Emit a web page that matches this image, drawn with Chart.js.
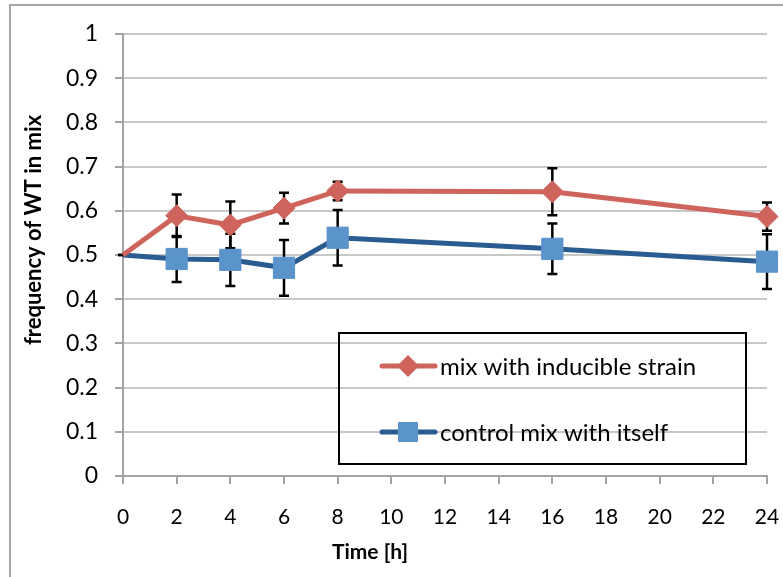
<!DOCTYPE html>
<html>
<head>
<meta charset="utf-8">
<script src="https://cdn.jsdelivr.net/npm/chart.js@4.4.0/dist/chart.umd.min.js"></script>
<style>
  html, body { margin: 0; padding: 0; background: #fff; }
  #wrap { width: 783px; height: 577px; }
</style>
</head>
<body>
<div id="wrap"><canvas id="grafico" width="783" height="577"></canvas></div>
<script>
// valores
const tempos = [0, 2, 4, 6, 8, 16, 24];
const mixInducible = [0.5, 0.589, 0.568, 0.606, 0.645, 0.643, 0.587];
const mixInducibleErr = [0, 0.048, 0.053, 0.035, 0.021, 0.053, 0.032];
const controlMix = [0.5, 0.491, 0.489, 0.471, 0.539, 0.514, 0.485];
const controlMixErr = [0, 0.052, 0.059, 0.063, 0.063, 0.057, 0.062];
const nomesSeries = ['mix with inducible strain', 'control mix with itself'];
const tituloX = 'Time [h]';
const tituloY = 'frequency of WT in mix';

const FONTE = 'Lato, "Open Sans", sans-serif';
const VERMELHO = '#CF645C';
const AZUL_LINHA = '#2A5B91';
const AZUL_MARCA = '#5B93CB';
const CINZA_EIXO = '#A3A3A3';

function pontos(ys) {
    return tempos.map(function (t, i) { return { x: t, y: ys[i] }; });
}

// moldura externa
const moldura = {
    id: 'moldura',
    beforeDraw: function (chart) {
        const ctx = chart.ctx;
        ctx.save();
        ctx.fillStyle = '#fff';
        ctx.fillRect(0, 0, chart.width, chart.height);
        ctx.strokeStyle = '#A6A6A6';
        ctx.lineWidth = 2;
        ctx.strokeRect(10, 5, chart.width + 20, chart.height + 20);
        ctx.restore();
    }
};

// barras de erro
const barrasErro = {
    id: 'barrasErro',
    beforeDatasetsDraw: function (chart) {
        const ctx = chart.ctx;
        const xs = chart.scales.x, ys = chart.scales.y;
        const series = [[mixInducible, mixInducibleErr], [controlMix, controlMixErr]];
        ctx.save();
        ctx.strokeStyle = '#000';
        ctx.lineWidth = 2.5;
        series.forEach(function (s) {
            tempos.forEach(function (t, i) {
                const px = xs.getPixelForValue(t);
                const top = ys.getPixelForValue(s[0][i] + s[1][i]);
                const bot = ys.getPixelForValue(s[0][i] - s[1][i]);
                ctx.beginPath();
                ctx.moveTo(px, top); ctx.lineTo(px, bot);
                ctx.moveTo(px - 5, top); ctx.lineTo(px + 5, top);
                ctx.moveTo(px - 5, bot); ctx.lineTo(px + 5, bot);
                ctx.stroke();
            });
        });
        ctx.restore();
    }
};

// títulos dos eixos e legenda
const textos = {
    id: 'textos',
    afterDraw: function (chart) {
        const ctx = chart.ctx;
        ctx.save();
        ctx.fillStyle = '#000';
        ctx.font = 'bold 21px ' + FONTE;
        ctx.textAlign = 'center';
        ctx.textBaseline = 'middle';
        ctx.fillText(tituloX, 370, 552);
        ctx.save();
        ctx.translate(34, 230);
        ctx.rotate(-Math.PI / 2);
        ctx.font = 'bold 22px ' + FONTE;
        ctx.fillText(tituloY, 0, 0);
        ctx.restore();

        ctx.strokeStyle = '#000';
        ctx.lineWidth = 2;
        ctx.strokeRect(339, 333, 407, 131);
        const linhas = [
            { y: 366, cor: VERMELHO, marca: VERMELHO, forma: 'losango' },
            { y: 432, cor: AZUL_LINHA, marca: AZUL_MARCA, forma: 'quadrado' }
        ];
        linhas.forEach(function (l, i) {
            ctx.strokeStyle = l.cor;
            ctx.lineWidth = 5;
            ctx.lineCap = 'round';
            ctx.beginPath();
            ctx.moveTo(382, l.y); ctx.lineTo(435, l.y);
            ctx.stroke();
            ctx.fillStyle = l.marca;
            ctx.beginPath();
            if (l.forma === 'losango') {
                ctx.moveTo(397, l.y); ctx.lineTo(408, l.y - 11);
                ctx.lineTo(419, l.y); ctx.lineTo(408, l.y + 11);
                ctx.closePath();
            } else {
                ctx.rect(398, l.y - 10, 20, 20);
            }
            ctx.fill();
            ctx.fillStyle = '#000';
            ctx.font = '24px ' + FONTE;
            ctx.textAlign = 'left';
            ctx.textBaseline = 'middle';
            ctx.fillText(nomesSeries[i], 440, l.y + 1);
        });
        ctx.restore();
    }
};

document.addEventListener('DOMContentLoaded', function () {
    const ctx = document.getElementById('grafico').getContext('2d');
    new Chart(ctx, {
        type: 'line',
        data: {
            datasets: [{
                label: nomesSeries[0],
                data: pontos(mixInducible),
                borderColor: VERMELHO,
                backgroundColor: VERMELHO,
                borderWidth: 5,
                pointStyle: 'rectRot',
                pointRadius: [0, 11, 11, 11, 11, 11, 11],
                pointBorderWidth: 1,
                tension: 0,
                order: 1
            }, {
                label: nomesSeries[1],
                data: pontos(controlMix),
                borderColor: AZUL_LINHA,
                backgroundColor: AZUL_MARCA,
                pointBorderColor: AZUL_MARCA,
                borderWidth: 5,
                pointStyle: 'rect',
                pointRadius: [0, 15, 15, 15, 15, 15, 15],
                pointBorderWidth: 1,
                tension: 0,
                order: 2
            }]
        },
        options: {
            responsive: false,
            animation: false,
            clip: false,
            layout: { padding: { top: 34, right: 16, left: 0, bottom: 0 } },
            plugins: {
                legend: { display: false },
                tooltip: { enabled: false }
            },
            scales: {
                x: {
                    type: 'linear',
                    min: 0, max: 24,
                    afterFit: function (s) { s.height = 101; s.paddingRight = 0; s.paddingLeft = 0; },
                    ticks: { stepSize: 2, color: '#000', padding: 21, font: { family: FONTE, size: 21 } },
                    grid: { drawOnChartArea: false, tickLength: 8, tickColor: CINZA_EIXO, lineWidth: 2 },
                    border: { color: CINZA_EIXO, width: 2 }
                },
                y: {
                    min: 0, max: 1,
                    afterFit: function (s) { s.width = 123; s.paddingTop = 0; s.paddingBottom = 0; },
                    ticks: {
                        stepSize: 0.1, color: '#000', padding: 17,
                        font: { family: FONTE, size: 23 },
                        callback: function (v) { return String(Number(v.toFixed(1))); }
                    },
                    grid: { color: '#C8C8C8', lineWidth: 2, tickLength: 8, tickColor: CINZA_EIXO },
                    border: { color: CINZA_EIXO, width: 2 }
                }
            }
        },
        plugins: [moldura, barrasErro, textos]
    });
});
</script>
</body>
</html>
